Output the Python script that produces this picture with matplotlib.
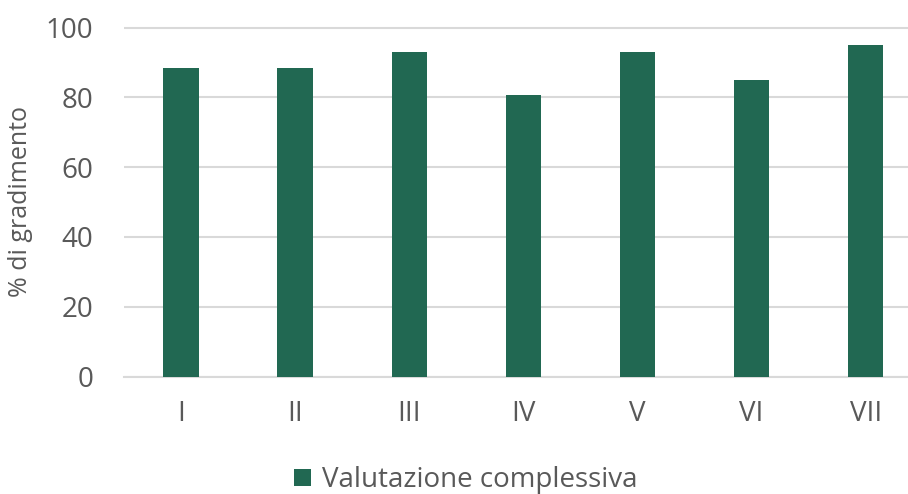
import matplotlib
matplotlib.use("Agg")
import matplotlib.pyplot as plt
from matplotlib.patches import Patch

# data
categories = ["I", "II", "III", "IV", "V", "VI", "VII"]
valutazione = [88.4, 88.4, 93.1, 80.6, 92.9, 85.0, 95.0]
y_ticks = [0, 20, 40, 60, 80, 100]

bar_color = "#216852"
grid_color = "#D9D9D9"
text_color = "#595959"

plt.rcParams["font.family"] = ["Open Sans", "DejaVu Sans"]

fig = plt.figure(figsize=(9.08, 4.94), dpi=100)
W, H = 908, 494
px_per_unit = 3.488
zero_y = 376.5
top_val = 100.6
ax = fig.add_axes([124 / W, (H - zero_y) / H, (W - 124) / W, top_val * px_per_unit / H])

x = list(range(len(categories)))
ax.bar(x, valutazione, width=0.31, color=bar_color, zorder=3)

ax.set_xlim(-0.5, 6.37)
ax.set_ylim(0, top_val)
ax.set_yticks(y_ticks)
ax.set_xticks(x)
ax.set_xticklabels(categories)

ax.yaxis.grid(True, color=grid_color, linewidth=1.5, zorder=0)
for s in ["top", "right", "left"]:
    ax.spines[s].set_visible(False)
ax.spines["bottom"].set_color(grid_color)
ax.spines["bottom"].set_linewidth(1.5)
ax.spines["bottom"].set_zorder(1)

ax.tick_params(axis="both", length=0, labelsize=20, labelcolor=text_color)
ax.tick_params(axis="y", pad=22)
ax.tick_params(axis="x", pad=17)

ax.set_ylabel("% di gradimento", fontsize=18, color=text_color, labelpad=9)

handle = Patch(facecolor=bar_color, edgecolor="none")
fig.legend([handle], ["Valutazione complessiva"], loc="center",
           bbox_to_anchor=(0.5127, 0.028), frameon=False, fontsize=20,
           labelcolor=text_color, handlelength=0.6, handleheight=0.6,
           handletextpad=0.4)

fig.savefig("out.png", dpi=100)
